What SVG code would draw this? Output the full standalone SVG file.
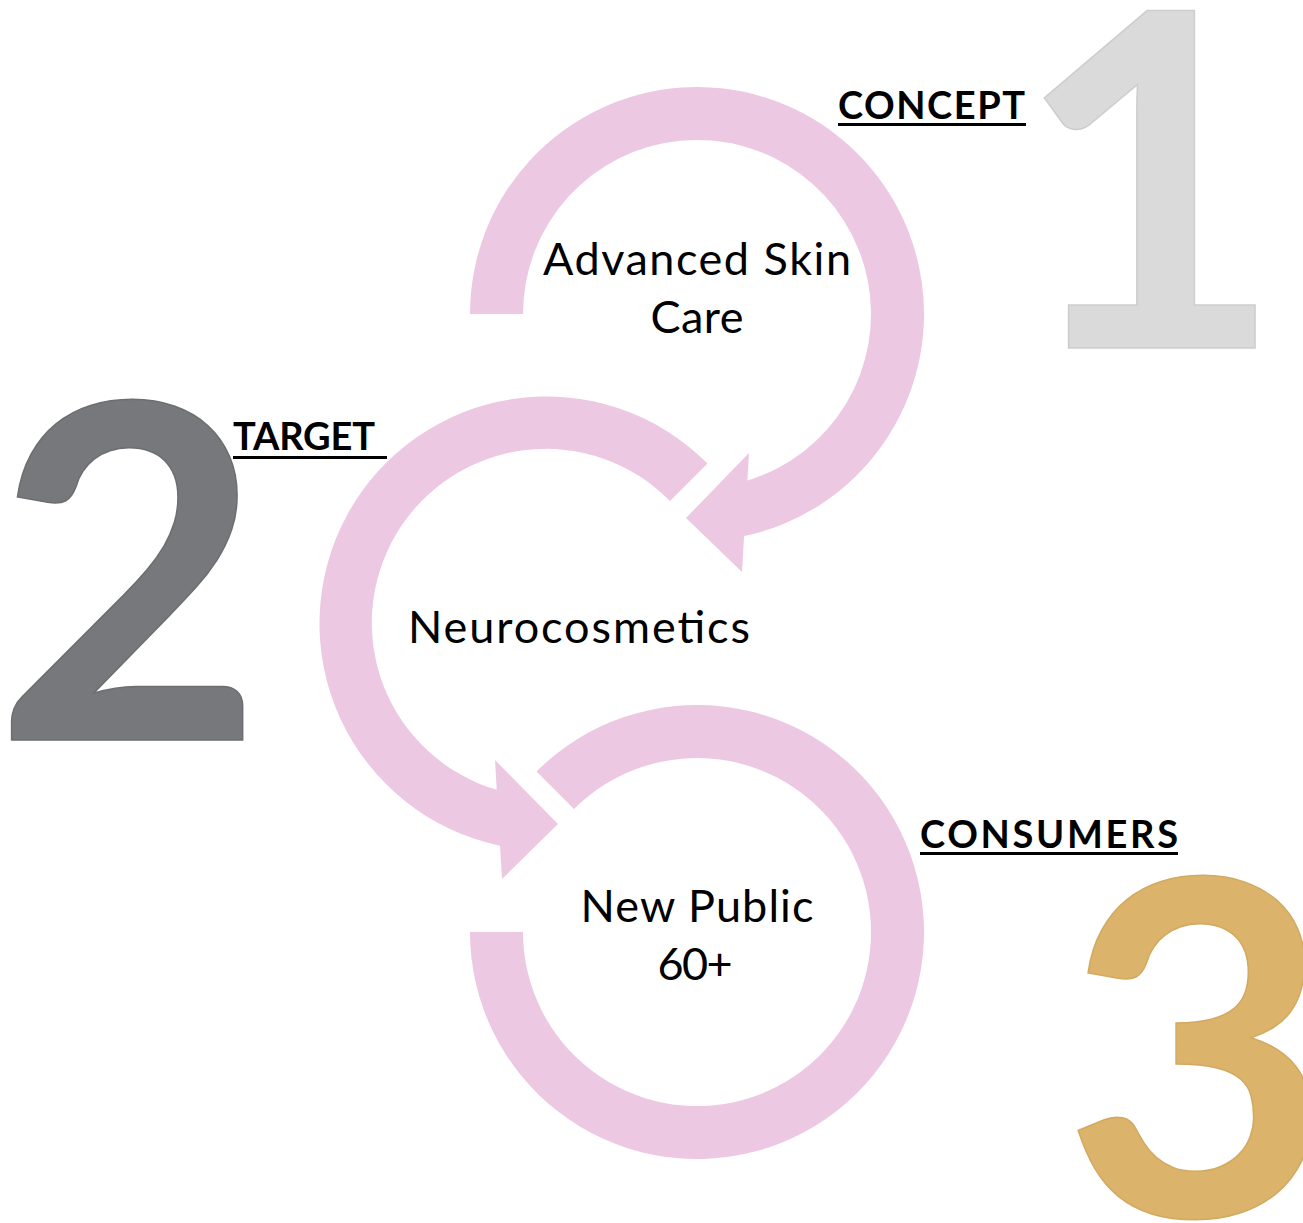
<svg xmlns="http://www.w3.org/2000/svg" width="1303" height="1223" viewBox="0 0 1303 1223">
  <style>
    .ring { fill: #EDC8E2; }
    .txt { font-family: Lato, "Open Sans", "Liberation Sans", sans-serif; font-size: 45px; fill: #000; text-anchor: middle; }
    .lbl { font-family: Lato, "Open Sans", "Liberation Sans", sans-serif; font-size: 38px; font-weight: bold; fill: #000; }
    .ul { fill: #000; }
    .num { font-family: Lato, "Open Sans", "DejaVu Sans", sans-serif; font-weight: bold; font-size: 466px; text-anchor: middle; stroke-width: 1.5; }
  </style>
  <rect width="1303" height="1223" fill="#FFFFFF"/>

  <g id="connectors">
    <path id="arrow-1" class="ring" d="M 470,314 A 227 227 0 1 1 744.1,536.1 L 742,572 L 686,518 L 749,453 L 747.4,480.5 A 174 174 0 1 0 523,314 Z"/>
    <path id="arrow-2" class="ring" d="M 707.5,463.5 A 227 227 0 1 0 500,845.7 L 502,879 L 558,824 L 495,760 L 496.7,789.8 A 174 174 0 1 1 670,501 Z"/>
    <path id="arrow-3" class="ring" d="M 536.5,771.5 A 227 227 0 1 1 470,932 L 523,932 A 174 174 0 1 0 574,809 Z"/>
  </g>

  <g id="node-concept">
    <text class="txt" x="697" y="275" textLength="308">Advanced Skin</text>
    <text class="txt" x="697" y="333" textLength="93">Care</text>
  </g>
  <g id="node-target">
    <text class="txt" x="579" y="643" textLength="342">Neurocosmetics</text>
  </g>
  <g id="node-consumers">
    <text class="txt" x="697" y="922" textLength="233">New Public</text>
    <text class="txt" x="695" y="980" textLength="75">60+</text>
  </g>

  <g id="label-concept">
    <text class="lbl" x="838" y="119" textLength="187">CONCEPT</text>
    <rect class="ul" x="838" y="123" width="188" height="3"/>
  </g>
  <g id="label-target">
    <text class="lbl" x="233" y="450" textLength="142">TARGET</text>
    <rect class="ul" x="233" y="456" width="154" height="3"/>
  </g>
  <g id="label-consumers">
    <text class="lbl" x="920" y="848" textLength="258">CONSUMERS</text>
    <rect class="ul" x="920" y="852" width="258" height="3"/>
  </g>

  <g id="number-1">
    <text class="num" x="1149" y="348" fill="#DADADA" stroke="#CDCDCD">1</text>
  </g>
  <g id="number-2">
    <text class="num" x="129" y="740" fill="#76787B" stroke="#6C6E71">2</text>
  </g>
  <g id="number-3">
    <text class="num" x="1198" y="1216" fill="#DCB36B" stroke="#D2A95F">3</text>
  </g>
</svg>
